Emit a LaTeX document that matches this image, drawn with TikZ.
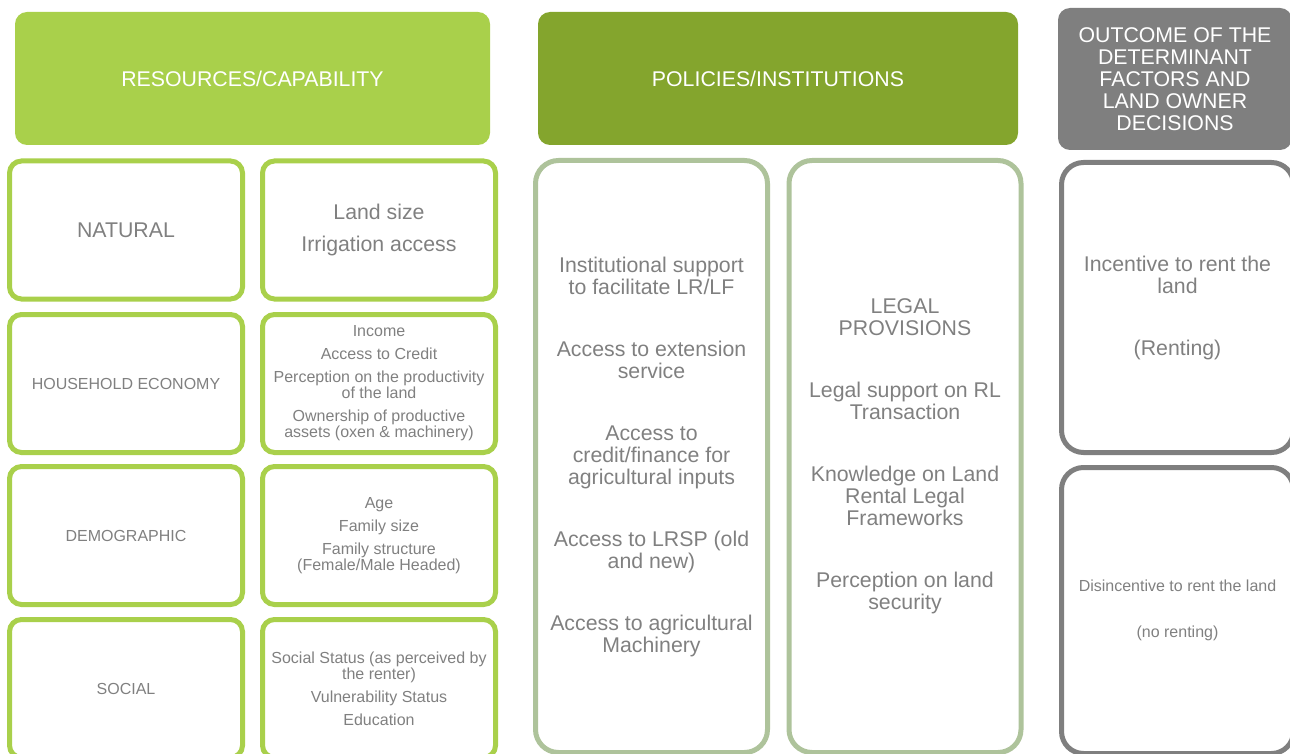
\documentclass[tikz,border=0pt]{standalone}
\usepackage{fontspec}
\setmainfont{Liberation Sans}

\definecolor{lightgreen}{HTML}{A9D04B}
\definecolor{darkgreen}{HTML}{84A52D}
\definecolor{palegreen}{HTML}{AEC39B}
\definecolor{boxgray}{HTML}{7F7F7F}
\definecolor{textgray}{HTML}{808080}

\begin{document}
\begin{tikzpicture}[x=1pt,y=-1pt]

    \useasboundingbox (0,0) rectangle (1290,754);
    \clip (0,0) rectangle (1290,754);

    \tikzset{bigtext/.style={font=\fontsize{21.3}{22}\selectfont}}
    \tikzset{smalltext/.style={font=\fontsize{16}{16}\selectfont}}
    \tikzset{headstyle/.style={shape=rectangle,rounded corners=12pt,inner sep=0pt,text=white,align=center,bigtext}}
    \tikzset{resstyle/.style={draw=lightgreen,line width=5pt,rounded corners=12pt,inner sep=0pt,minimum width=233pt,minimum height=138pt,text=textgray,align=center,smalltext}}
    \tikzset{polstyle/.style={draw=palegreen,line width=5pt,rounded corners=23pt,inner sep=0pt,minimum width=232pt,minimum height=592pt,text=textgray,align=center,bigtext}}
    \tikzset{outstyle/.style={draw=boxgray,line width=5pt,rounded corners=22pt,inner sep=0pt,minimum width=232pt,text=textgray,align=center,smalltext}}

    % Cabeceras
    \node[headstyle,fill=lightgreen,minimum width=475pt,minimum height=133pt] (h1) at (252.5,78.5) {RESOURCES/CAPABILITY};
    \node[headstyle,fill=darkgreen,minimum width=480pt,minimum height=133pt] (h2) at (778,78.5) {POLICIES/INSTITUTIONS};
    \node[headstyle,fill=boxgray,minimum width=234pt,minimum height=142pt] (h3) at (1175,79) {OUTCOME OF THE\\DETERMINANT\\FACTORS AND\\LAND OWNER\\DECISIONS};

    % Recursos
    \node[resstyle,bigtext] (r1) at (126,230) {NATURAL};
    \node[resstyle,bigtext] (r2) at (379,230) {Land size\\[10pt]Irrigation access};
    \node[resstyle] (r3) at (126,383.5) {HOUSEHOLD ECONOMY};
    \node[resstyle] (r4) at (379,383.5) {Income\\[7pt]Access to Credit\\[7pt]Perception on the productivity\\of the land\\[7pt]Ownership of productive\\assets (oxen \& machinery)};
    \node[resstyle] (r5) at (126,535.5) {DEMOGRAPHIC};
    \node[resstyle] (r6) at (379,535.5) {Age\\[7pt]Family size\\[7pt]Family structure\\(Female/Male Headed)};
    \node[resstyle] (r7) at (126,688.5) {SOCIAL};
    \node[resstyle] (r8) at (379,688.5) {Social Status (as perceived by\\the renter)\\[7pt]Vulnerability Status\\[7pt]Education};

    % Politicas
    \node[polstyle] (p1) at (651.5,456.5) {Institutional support\\to facilitate LR/LF\\[40pt]Access to extension\\service\\[40pt]Access to\\credit/finance for\\agricultural inputs\\[40pt]Access to LRSP (old\\and new)\\[40pt]Access to agricultural\\Machinery};
    \node[polstyle] (p2) at (905,456.5) {LEGAL\\PROVISIONS\\[40pt]Legal support on RL\\Transaction\\[40pt]Knowledge on Land\\Rental Legal\\Frameworks\\[40pt]Perception on land\\security};

    % Resultados
    \node[outstyle,bigtext,minimum height=290pt] (o1) at (1177.5,307.5) {Incentive to rent the\\land\\[40pt](Renting)};
    \node[outstyle,minimum height=286pt] (o2) at (1177.5,610.5) {Disincentive to rent the land\\[30pt](no renting)};

\end{tikzpicture}
\end{document}
